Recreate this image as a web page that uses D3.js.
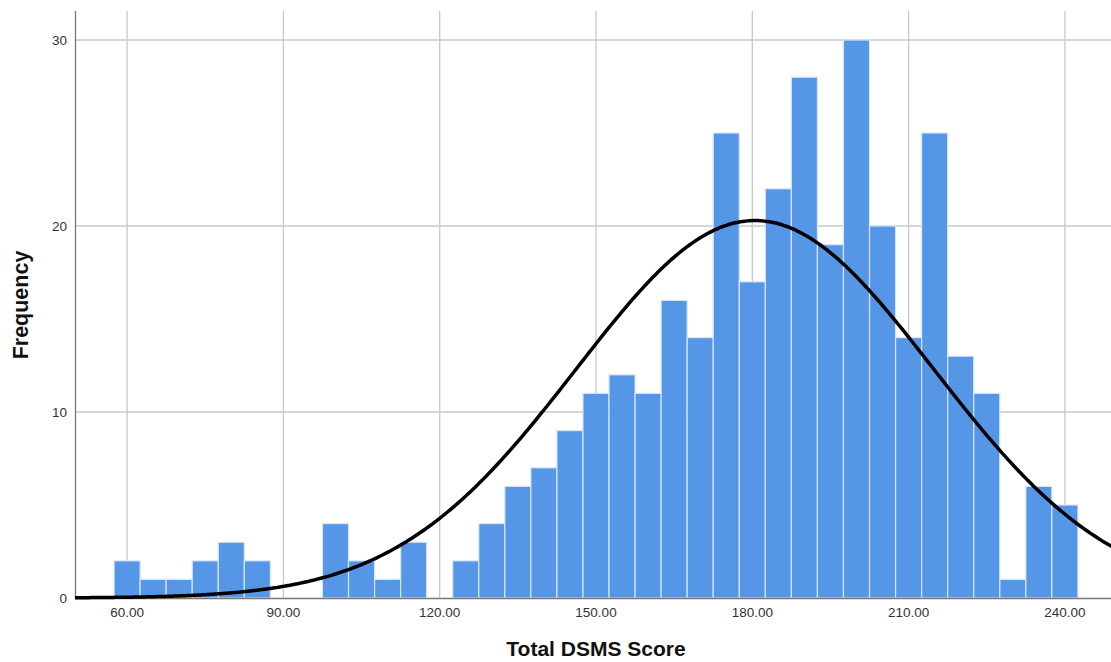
<!DOCTYPE html>
<html>
<head>
<meta charset="utf-8">
<script src="https://cdn.jsdelivr.net/npm/d3@7"></script>
<style>
  body { margin: 0; background: #fff; }
  svg { font-family: "Liberation Sans", Arial, sans-serif; }
</style>
</head>
<body>
<svg id="chart" width="1111" height="662"></svg>
<script>
// Bin centres (width 5) and counts
var binCenters = [60, 65, 70, 75, 80, 85, 90, 95, 100, 105, 110, 115, 120, 125, 130, 135, 140, 145, 150,
  155, 160, 165, 170, 175, 180, 185, 190, 195, 200, 205, 210, 215, 220, 225, 230, 235, 240];
var counts = [2, 1, 1, 2, 3, 2, 0, 0, 4, 2, 1, 3, 0, 2, 4, 6, 7, 9, 11,
  12, 11, 16, 14, 25, 17, 22, 28, 19, 30, 20, 14, 25, 13, 11, 1, 6, 5];
var binWidth = 5;
var xTicks = [60, 90, 120, 150, 180, 210, 240];
var yTicks = [0, 10, 20, 30];
// normal curve parameters (fit shown on chart)
var fitMean = 180.5;
var fitSd = 34.3;

var svg = d3.select("#chart");
var plotTop = 11;

var x = d3.scaleLinear().domain([50, 250]).range([75, 1117]);
var y = d3.scaleLinear().domain([0, 30]).range([598, 40]);

// grid
svg.append("g").selectAll("line").data(xTicks).join("line")
  .attr("x1", (d) => x(d)).attr("x2", (d) => x(d))
  .attr("y1", plotTop).attr("y2", 598)
  .attr("stroke", "#c8c8c8").attr("stroke-width", 1.3);
svg.append("g").selectAll("line").data(yTicks.slice(1)).join("line")
  .attr("x1", 76).attr("x2", 1111)
  .attr("y1", (d) => y(d)).attr("y2", (d) => y(d))
  .attr("stroke", "#c8c8c8").attr("stroke-width", 1.3);

// bars
var bins = binCenters.map((c, i) => ({ c: c, n: counts[i] })).filter((b) => b.n > 0);
svg.append("g").selectAll("rect").data(bins).join("rect")
  .attr("x", (d) => x(d.c - binWidth / 2))
  .attr("width", (d) => x(d.c + binWidth / 2) - x(d.c - binWidth / 2))
  .attr("y", (d) => y(d.n))
  .attr("height", (d) => y(0) - y(d.n))
  .attr("fill", "#5596e6")
  .attr("stroke", "#d6e6fa")
  .attr("stroke-width", 1.2);

// axes lines
svg.append("line").attr("x1", 75.5).attr("x2", 75.5).attr("y1", plotTop).attr("y2", 598.5)
  .attr("stroke", "#777").attr("stroke-width", 1.3);
svg.append("line").attr("x1", 75).attr("x2", 1111).attr("y1", 598.5).attr("y2", 598.5)
  .attr("stroke", "#777").attr("stroke-width", 1.3);

// normal curve
var curvePts = d3.range(50, 250.5, 0.5).map((v) => {
  var z = (v - fitMean) / fitSd;
  var dens = d3.sum(counts) * binWidth / (fitSd * Math.sqrt(2 * Math.PI)) * Math.exp(-0.5 * z * z);
  return [v, dens];
});
svg.append("path").datum(curvePts)
  .attr("d", d3.line().x((d) => x(d[0])).y((d) => y(d[1])).curve(d3.curveBasis))
  .attr("fill", "none").attr("stroke", "#000").attr("stroke-width", 3.5);

// tick labels
svg.append("g").selectAll("text").data(xTicks).join("text")
  .attr("x", (d) => x(d)).attr("y", 617)
  .attr("text-anchor", "middle").attr("font-size", 13.5).attr("fill", "#333")
  .text((d) => d.toFixed(2));
svg.append("g").selectAll("text").data(yTicks).join("text")
  .attr("x", 67).attr("y", (d) => y(d) + 4.5)
  .attr("text-anchor", "end").attr("font-size", 13.5).attr("fill", "#333")
  .text((d) => d);

// titles
svg.append("text").attr("x", 596).attr("y", 656)
  .attr("text-anchor", "middle").attr("font-size", 21).attr("font-weight", "bold")
  .attr("fill", "#111").text("Total DSMS Score");
svg.append("text").attr("transform", "translate(28,305) rotate(-90)")
  .attr("text-anchor", "middle").attr("font-size", 21.5).attr("font-weight", "bold")
  .attr("fill", "#111").text("Frequency");
</script>
</body>
</html>
